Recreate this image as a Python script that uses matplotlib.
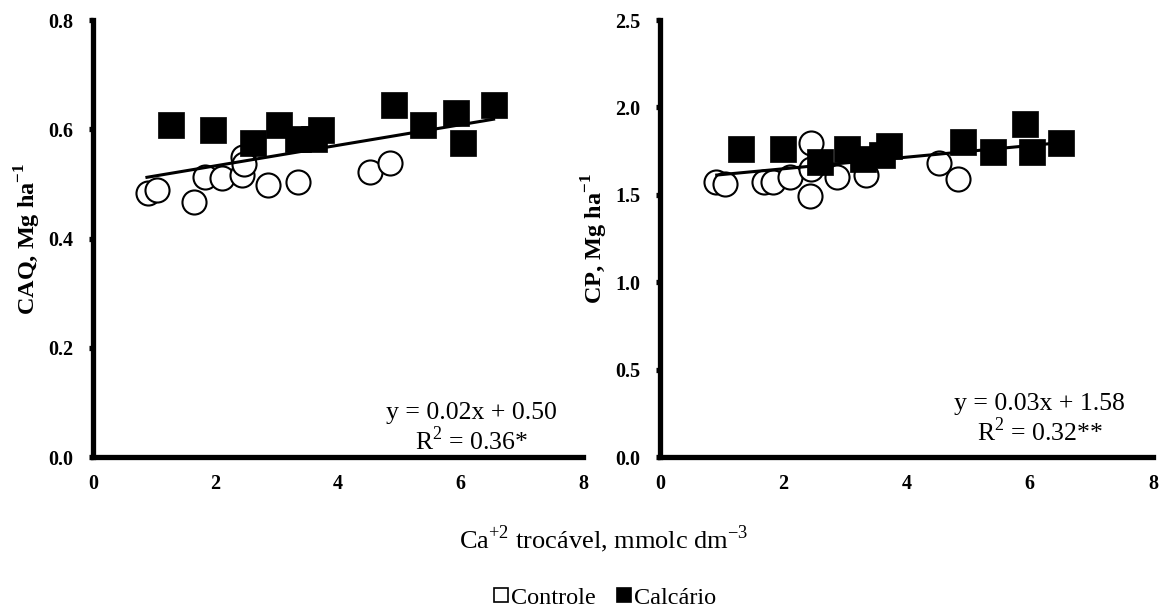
import matplotlib
matplotlib.use('Agg')
import matplotlib.pyplot as plt
from matplotlib.lines import Line2D
import numpy as np

plt.rcParams['font.family'] = ['Liberation Serif', 'DejaVu Serif']
plt.rcParams['mathtext.fontset'] = 'custom'
plt.rcParams['mathtext.rm'] = 'Liberation Serif'
plt.rcParams['mathtext.bf'] = 'Liberation Serif:bold'

# Ca+2 trocavel (x) for each group
x_ctrl = [0.90, 1.05, 1.65, 1.83, 2.11, 2.44, 2.45, 2.47, 2.86, 3.34, 4.52, 4.85]
x_calc = [1.28, 1.96, 2.61, 3.03, 3.35, 3.60, 3.72, 4.92, 5.39, 5.93, 6.04, 6.54]

# CAQ (left panel)
caq_ctrl = [0.483, 0.489, 0.467, 0.512, 0.510, 0.516, 0.550, 0.537, 0.498, 0.504, 0.521, 0.538]
caq_calc = [0.607, 0.599, 0.575, 0.607, 0.582, 0.582, 0.599, 0.645, 0.607, 0.630, 0.575, 0.645]

# CP (right panel)
x_ctrl_cp = [0.90, 1.06, 1.68, 1.84, 2.11, 2.45, 2.45, 2.44, 2.87, 3.34, 4.52, 4.84]
cp_ctrl = [1.575, 1.56, 1.575, 1.575, 1.60, 1.795, 1.65, 1.495, 1.60, 1.613, 1.684, 1.59]
x_calc_cp = [1.31, 1.99, 2.60, 3.03, 3.30, 3.60, 3.72, 4.92, 5.40, 5.93, 6.03, 6.51]
cp_calc = [1.762, 1.762, 1.69, 1.762, 1.705, 1.728, 1.781, 1.80, 1.743, 1.903, 1.747, 1.795]

# trend lines: slope, intercept, x range
fit_caq = (0.0188, 0.4955, 0.88, 6.54)
fit_cp = (0.0332, 1.5825, 0.92, 6.55)

eq_caq = ['y = 0.02x + 0.50', 'R$^{2}$ = 0.36*']
eq_cp = ['y = 0.03x + 1.58', 'R$^{2}$ = 0.32**']

fig = plt.figure(figsize=(11.6, 6.16), dpi=100)
ax1 = fig.add_axes([0.0802, 0.2581, 0.4224, 0.7094])
ax2 = fig.add_axes([0.569, 0.2581, 0.425, 0.7094])

def panel(ax, xc, yc, xk, yk, fit, ylim, yticks, ylabel, eq, eqpos):
    ax.scatter(xc, yc, s=300, marker='o', facecolors='white', edgecolors='black',
               linewidths=1.5, zorder=3)
    ax.scatter(xk, yk, s=330, marker='s', facecolors='black', edgecolors='black',
               linewidths=0.5, zorder=4)
    m, b, x0, x1 = fit
    xx = np.array([x0, x1])
    ax.plot(xx, m*xx + b, color='black', lw=2.2, zorder=5)
    ax.set_xlim(0, 8)
    ax.set_ylim(*ylim)
    ax.set_xticks([0, 2, 4, 6, 8])
    ax.set_yticks(yticks)
    ax.set_yticklabels(['%.1f' % t for t in yticks])
    for s in ['top', 'right']:
        ax.spines[s].set_visible(False)
    for s in ['left', 'bottom']:
        ax.spines[s].set_linewidth(3.8)
    ax.tick_params(axis='y', length=3, width=3.8, labelsize=14.5, pad=11)
    ax.tick_params(axis='x', length=0, labelsize=14.5, pad=12)
    for lab in ax.get_xticklabels() + ax.get_yticklabels():
        lab.set_fontweight('bold')
    ax.set_ylabel(ylabel, fontsize=17.5, fontweight='bold', labelpad=4)
    ax.text(eqpos[0], eqpos[1], eq[0] + '\n' + eq[1], transform=ax.transAxes,
            ha='center', va='bottom', fontsize=18.5, linespacing=1.1)
    ax.set_clip_on(False)

panel(ax1, x_ctrl, caq_ctrl, x_calc, caq_calc, fit_caq, (0, 0.8),
      [0.0, 0.2, 0.4, 0.6, 0.8], 'CAQ, Mg ha$^{\\mathbf{-1}}$', eq_caq, (0.773, 0.005))
panel(ax2, x_ctrl_cp, cp_ctrl, x_calc_cp, cp_calc, fit_cp, (0, 2.5),
      [0.0, 0.5, 1.0, 1.5, 2.0, 2.5], 'CP, Mg ha$^{\\mathbf{-1}}$', eq_cp, (0.77, 0.025))

fig.text(0.52, 0.125, 'Ca$^{+2}$ trocável, mmolc dm$^{-3}$', ha='center', va='center',
         fontsize=19)

handles = [Line2D([], [], marker='s', ls='none', mfc='white', mec='black', ms=10, mew=1.2),
           Line2D([], [], marker='s', ls='none', mfc='black', mec='black', ms=10, mew=1.2)]
fig.legend(handles, ['Controle', 'Calcário'], loc='center', bbox_to_anchor=(0.522, 0.03),
           ncol=2, frameon=False, fontsize=17.5, handlelength=0.5, handletextpad=0.15,
           columnspacing=0.9)

fig.savefig('out.png', dpi=100)
